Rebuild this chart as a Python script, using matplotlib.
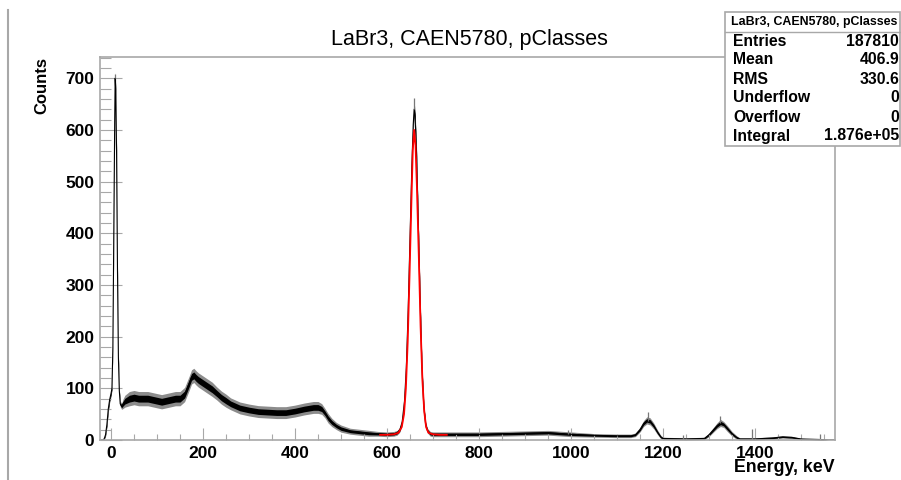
import matplotlib
matplotlib.use("Agg")
import matplotlib.pyplot as plt
from matplotlib.ticker import MultipleLocator
from matplotlib.lines import Line2D
import numpy as np

plt.rcParams['font.family'] = ['Liberation Sans', 'DejaVu Sans']

# spectrum: energy (keV), mean counts, half-width of the noise band
energy = [-24, -18, -15, -12, -9, -6, -3, 0, 2, 4, 6, 8, 9, 10, 12, 14, 16, 18, 20, 23,
          26, 30, 40, 50, 60, 70, 80, 90, 100, 110, 120, 130, 140, 150, 160, 170, 175,
          180, 185, 190, 200, 210, 220, 230, 240, 250, 260, 270, 280, 290, 300, 320,
          340, 360, 380, 400, 420, 440, 450, 458, 465, 472, 480, 490, 500, 520, 540,
          560, 580, 600, 615, 622, 628, 633, 638, 642, 646, 650, 654, 657, 659, 661,
          664, 668, 672, 676, 680, 684, 688, 694, 700, 750, 800, 850, 900, 950, 1000,
          1050, 1100, 1130, 1140, 1150, 1158, 1165, 1172, 1180, 1188, 1195, 1200, 1250,
          1290, 1300, 1310, 1318, 1325, 1332, 1340, 1350, 1360, 1367, 1400, 1440, 1460,
          1480, 1500, 1540, 1560, 1574]
counts = [0, 0, 2, 10, 30, 60, 78, 90, 100, 180, 400, 620, 700, 680, 560, 330, 160, 95, 70, 65,
          70, 75, 80, 82, 80, 80, 80, 78, 76, 74, 76, 78, 80, 80, 88, 110, 122,
          125, 120, 116, 110, 104, 98, 90, 82, 76, 70, 66, 62, 60, 58, 55,
          54, 53, 53, 56, 60, 63, 63, 60, 52, 42, 34, 27, 22, 17, 15,
          13, 12, 11, 12, 14, 20, 35, 75, 140, 250, 390, 530, 610, 640, 625,
          560, 420, 270, 140, 65, 30, 18, 12, 11, 11, 11, 12, 13, 14, 11,
          9, 8, 8, 10, 20, 32, 38, 36, 27, 15, 6, 3, 2,
          3, 10, 20, 28, 33, 30, 22, 12, 5, 2, 2, 4, 6,
          5, 2, 1, 0, 0]
spread = [0, 0, 1, 3, 5, 6, 5, 5, 4, 5, 10, 15, 10, 15, 15, 10, 8, 5, 5, 5,
          8, 10, 12, 12, 12, 12, 12, 12, 12, 12, 12, 12, 12, 12, 12, 12, 12,
          12, 12, 12, 12, 12, 12, 11, 11, 11, 10, 10, 10, 10, 10, 10,
          10, 10, 10, 10, 10, 10, 10, 9, 8, 8, 7, 6, 6, 5, 5,
          5, 4, 4, 4, 4, 4, 5, 6, 8, 10, 10, 12, 12, 12, 12,
          12, 10, 10, 8, 6, 5, 4, 4, 4, 4, 4, 4, 4, 4, 4,
          3, 3, 3, 3, 4, 5, 6, 6, 5, 4, 3, 2, 2,
          2, 3, 4, 5, 6, 5, 5, 4, 3, 2, 2, 2, 2,
          2, 1, 1, 0, 0]

# single tall bins / error bars sticking out of the band
spike_energy = [9, 659, 993, 1168, 1243, 1325, 1393, 1541]
spike_top = [708, 662, 20, 55, 10, 46, 21, 11]

# red gaussian fit over the 662 keV line
fit_energy = [585, 600, 615, 625, 632, 637, 641, 645, 649, 653, 656, 659, 662, 665,
              669, 673, 677, 681, 685, 690, 700, 715, 730]
fit_counts = [10, 10, 11, 14, 25, 50, 100, 190, 320, 460, 560, 600, 570, 490,
              360, 220, 115, 55, 25, 14, 11, 10, 10]

stat_names = ["Entries", "Mean", "RMS", "Underflow", "Overflow", "Integral"]
stat_values = ["187810", "406.9", "330.6", "0", "0", "1.876e+05"]

title = "LaBr3, CAEN5780, pClasses"
frame_col = "#a8a8a8"

fig = plt.figure(figsize=(9.01, 4.80), dpi=100)
ax = fig.add_axes([100 / 901, 40 / 480, 735 / 901, 383 / 480])

e = np.array(energy)
c = np.array(counts)
s = np.array(spread)
# light outer band = bin-to-bin scatter, dark core where most bins sit
ax.fill_between(e, c - s * 1.15, c + s * 1.15, color="#8c8c8c", lw=0)
ax.fill_between(e, c - s * 0.55, c + s * 0.55, color="black", lw=0)
ax.plot(e, c, color="black", lw=0.8)
for se, st in zip(spike_energy, spike_top):
    ax.vlines(se, np.interp(se, e, c), st, color="#777777", lw=0.9)
ax.plot(fit_energy, fit_counts, color="red", lw=1.3)

ax.set_xlim(-24, 1574)
ax.set_ylim(0, 741)
ax.xaxis.set_major_locator(MultipleLocator(200))
ax.xaxis.set_minor_locator(MultipleLocator(50))
ax.yaxis.set_major_locator(MultipleLocator(100))
ax.yaxis.set_minor_locator(MultipleLocator(20))
ax.tick_params(axis="y", which="major", direction="in", length=15.8, width=0.8,
               color=frame_col, labelsize=12.5, pad=4)
ax.tick_params(axis="y", which="minor", direction="in", length=7.9, width=0.8, color=frame_col)
ax.tick_params(axis="x", which="major", direction="in", length=8.3, width=0.8,
               color=frame_col, labelsize=12.5, pad=4)
ax.tick_params(axis="x", which="minor", direction="in", length=4.3, width=0.8, color=frame_col)
for lab in ax.get_xticklabels() + ax.get_yticklabels():
    lab.set_fontweight("bold")
for sp in ax.spines.values():
    sp.set_color(frame_col)
    sp.set_linewidth(1.2)

fig.text(469 / 901, 1 - 40 / 480, title, ha="center", va="center", fontsize=15.5)
fig.text(42 / 901, 1 - 57 / 480, "Counts", rotation=90, ha="center", va="top",
         fontsize=12, fontweight="bold")
fig.text(835 / 901, 1 - 468 / 480, "Energy, keV", ha="right", va="center",
         fontsize=12.8, fontweight="bold")

# left pad border
fig.add_artist(Line2D([8 / 901, 8 / 901], [0, 1 - 10 / 480], color=frame_col, lw=1.5))

# stats box
bx0, bx1, by0, by1 = 725 / 901, 900 / 901, 1 - 146 / 480, 1 - 12 / 480
box = plt.Rectangle((bx0, by0), bx1 - bx0, by1 - by0, transform=fig.transFigure,
                    facecolor="white", edgecolor=frame_col, lw=1.2, zorder=5)
fig.add_artist(box)
fig.add_artist(Line2D([bx0, bx1], [1 - 32 / 480] * 2, color=frame_col, lw=1.0, zorder=6))
fig.text((bx0 + bx1) / 2 + 2 / 901, 1 - 22 / 480, title, ha="center", va="center",
         fontsize=8.9, fontweight="bold", zorder=7)
for i, (nm, val) in enumerate(zip(stat_names, stat_values)):
    y = 1 - (41 + 19 * i) / 480
    fig.text(733 / 901, y, nm, ha="left", va="center", fontsize=11.3,
             fontweight="bold", zorder=7)
    fig.text(899 / 901, y, val, ha="right", va="center", fontsize=11.3,
             fontweight="bold", zorder=7)

fig.savefig("out.png", dpi=100)
